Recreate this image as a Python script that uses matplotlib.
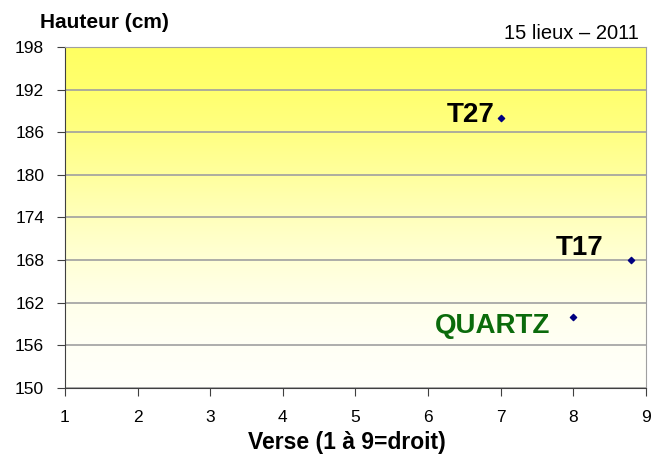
import numpy as np
import matplotlib
matplotlib.use('Agg')
import matplotlib.pyplot as plt
from matplotlib.colors import LinearSegmentedColormap

plt.rcParams['font.family'] = ['Liberation Sans', 'DejaVu Sans']

# data
names = ['T27', 'T17', 'QUARTZ']
verse = [7.0, 8.8, 8.0]
hauteur = [188, 168, 160]
label_colors = ['black', 'black', '#0b6b0b']
yticks = np.arange(150, 199, 6)
xticks = np.arange(1, 10, 1)

fig = plt.figure(figsize=(6.53, 4.59), dpi=100)
ax = fig.add_axes([0.0995, 0.1547, 0.8895, 0.7429])

# yellow -> white background, fades faster near the bottom
stops = [(0.0, '#fffffa'), (0.125, '#fffff5'), (0.25, '#ffffea'),
         (0.375, '#ffffd6'), (0.5, '#ffffbc'), (0.625, '#ffff9e'),
         (0.75, '#ffff82'), (0.875, '#ffff6e'), (1.0, '#ffff62')]
cmap = LinearSegmentedColormap.from_list('yw', stops)
grad = np.linspace(0, 1, 256).reshape(-1, 1)
ax.imshow(grad, aspect='auto', cmap=cmap, origin='lower',
          extent=[1, 9, 150, 198], zorder=0)

ax.set_xlim(1, 9)
ax.set_ylim(150, 198)
ax.set_xticks(xticks)
ax.set_yticks(yticks)
ax.grid(axis='y', color='#a0a0a0', linewidth=1.2, zorder=1)
ax.tick_params(direction='out', length=6, color='#404040', labelsize=12.5)
ax.tick_params(axis='x', pad=10)
ax.tick_params(axis='y', pad=9)

for s in ['left', 'bottom']:
    ax.spines[s].set_color('#404040')
for s in ['right', 'top']:
    ax.spines[s].set_color('#a0a0a0')

ax.scatter(verse, hauteur, marker='D', s=10, color='#000080', zorder=3)

offsets = [(-0.08, 0.4), (-0.38, 1.7), (-0.32, -1.3)]
for n, x, y, c, (dx, dy) in zip(names, verse, hauteur, label_colors, offsets):
    ax.text(x + dx, y + dy, n, color=c, fontsize=20, fontweight='bold',
            ha='right', va='center', zorder=4)

ax.set_xlabel('Verse (1 à 9=droit)', fontsize=16.5, fontweight='bold')
ax.xaxis.label.set_va('center')
ax.xaxis.set_label_coords(0.486, -0.161)
fig.text(0.061, 0.952, 'Hauteur (cm)', fontsize=15, fontweight='bold', ha='left', va='center')
fig.text(0.978, 0.928, '15 lieux \u2013 2011', fontsize=14.5, ha='right', va='center')

fig.savefig('out.png', dpi=100)
